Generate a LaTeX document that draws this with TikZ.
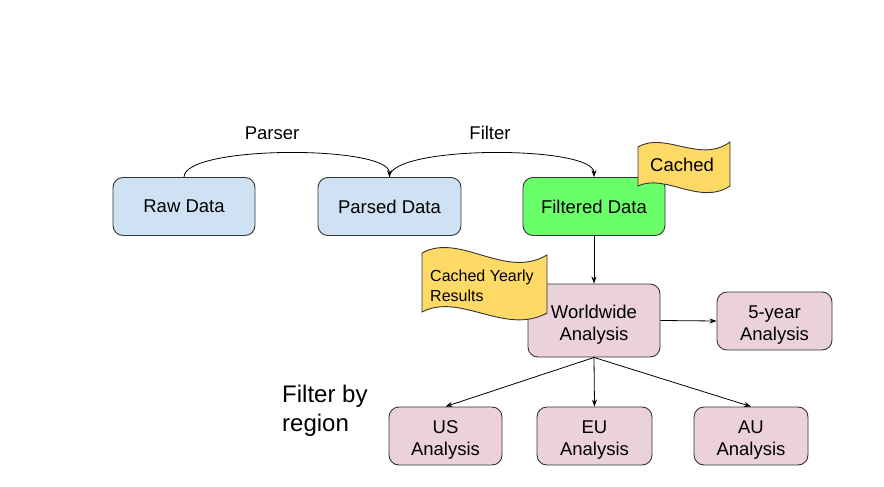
\documentclass[tikz,border=0pt]{standalone}
\usepackage{fontspec}
\setmainfont{Liberation Sans}
\usetikzlibrary{arrows.meta}
\definecolor{bluefill}{HTML}{CFE2F3}
\definecolor{pinkfill}{HTML}{EAD1DC}
\definecolor{greenfill}{HTML}{6AFF6A}
\definecolor{flagfill}{HTML}{FFD966}
\definecolor{edge}{HTML}{333333}
\tikzset{
  box/.style={draw=edge, line width=0.9pt, rounded corners=10pt, align=center,
    font=\fontsize{18.5}{21}\selectfont, inner sep=0pt},
  twotxt/.style={align=center, font=\fontsize{18.5}{21.5}\selectfont, inner sep=0pt, yshift=-4pt},
  conn/.style={draw=black, line width=0.8pt, -{Stealth[length=7pt,width=5pt]}},
  flag/.style={draw=edge, line width=0.9pt, fill=flagfill},
  lbl/.style={font=\fontsize{18.5}{21}\selectfont, inner sep=0pt}
}
\begin{document}
\begin{tikzpicture}[x=1pt,y=-1pt]
\useasboundingbox (0,0) rectangle (884,487);
% boxes
\node[box, fill=bluefill, minimum width=142pt, minimum height=58pt] (raw) at (184,206.5) {Raw Data};
\node[box, fill=bluefill, minimum width=143pt, minimum height=58pt] (parsed) at (389.5,206.5) {Parsed Data};
\node[box, fill=greenfill, minimum width=142pt, minimum height=58pt] (filtered) at (594,206.5) {Filtered Data};
\node[box, fill=pinkfill, minimum width=132pt, minimum height=73pt,
  label={[twotxt]center:Worldwide\\Analysis}] (world) at (594,320.5) {};
\node[box, fill=pinkfill, minimum width=115pt, minimum height=58pt,
  label={[twotxt]center:5-year\\Analysis}] (five) at (774.5,321) {};
\node[box, fill=pinkfill, minimum width=113pt, minimum height=58pt,
  label={[twotxt]center:US\\Analysis}] (us) at (445.5,436) {};
\node[box, fill=pinkfill, minimum width=115pt, minimum height=58pt,
  label={[twotxt]center:EU\\Analysis}] (eu) at (594.5,436) {};
\node[box, fill=pinkfill, minimum width=114pt, minimum height=58pt,
  label={[twotxt]center:AU\\Analysis}] (au) at (751,436) {};
% flags
\draw[flag] (638,147) .. controls (665,131) and (700,164) .. (730,142)
  -- (730,186) .. controls (700,206) and (665,173) .. (638,186) -- cycle;
\node[lbl, anchor=base west] (cachedtxt) at (650,171) {Cached};
\draw[flag] (422,253) .. controls (460,232) and (505,280) .. (547,255)
  -- (547,313) .. controls (505,336) and (460,292) .. (422,312) -- cycle;
\node[font=\fontsize{16}{20}\selectfont, align=left, anchor=north west, inner sep=0pt] (yearly) at (430,269.5) {Cached Yearly\\Results};
% labels
\node[lbl] (parserlbl) at (272,133) {Parser};
\node[lbl] (filterlbl) at (490,133) {Filter};
\node[font=\fontsize{24}{29}\selectfont, align=left, anchor=north west, inner sep=0pt] (region) at (282,384.5) {Filter by\\region};
% connectors
\draw[conn] (raw.north) .. controls (184,145) and (389,145) .. (parsed.north);
\draw[conn] (parsed.north) .. controls (389,145) and (594,145) .. (filtered.north);
\draw[conn] (filtered.south) -- (world.north);
\draw[conn] (world.east) -- (five.west);
\draw[conn] (world.south) -- (us.north);
\draw[conn] (world.south) -- (eu.north);
\draw[conn] (world.south) -- (au.north);
\end{tikzpicture}
\end{document}
